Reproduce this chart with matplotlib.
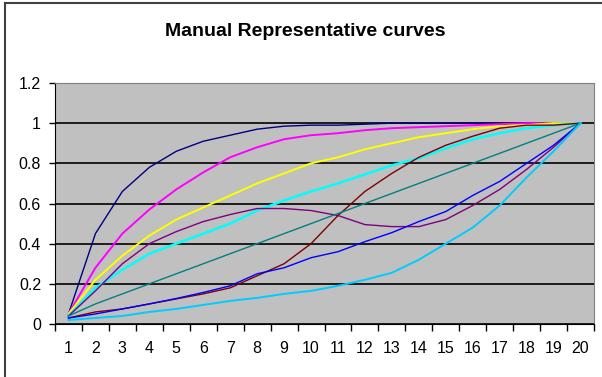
import matplotlib.pyplot as plt
from matplotlib.lines import Line2D

# categorias do eixo x (pontos 1 a 20)
pontos = list(range(1, 21))

# curvas
curva_azul_escuro = [0.05, 0.45, 0.66, 0.78, 0.86, 0.91, 0.94, 0.97, 0.985, 0.99,
                     0.99, 0.995, 1.0, 1.0, 1.0, 1.0, 1.0, 1.0, 1.0, 1.0]
curva_magenta = [0.05, 0.28, 0.45, 0.57, 0.67, 0.755, 0.83, 0.88, 0.92, 0.94,
                 0.95, 0.965, 0.975, 0.98, 0.985, 0.99, 0.995, 1.0, 1.0, 1.0]
curva_amarela = [0.05, 0.22, 0.34, 0.44, 0.52, 0.58, 0.64, 0.70, 0.75, 0.80,
                 0.83, 0.87, 0.90, 0.93, 0.95, 0.97, 0.985, 0.99, 1.0, 1.0]
curva_ciano = [0.04, 0.18, 0.27, 0.35, 0.40, 0.45, 0.50, 0.565, 0.615, 0.66,
               0.70, 0.745, 0.79, 0.825, 0.875, 0.92, 0.95, 0.975, 0.99, 1.0]
curva_roxa = [0.04, 0.165, 0.30, 0.40, 0.46, 0.51, 0.545, 0.575, 0.575, 0.565,
              0.54, 0.495, 0.485, 0.485, 0.52, 0.59, 0.67, 0.77, 0.88, 1.0]
curva_vinho = [0.03, 0.06, 0.075, 0.10, 0.125, 0.15, 0.18, 0.24, 0.30, 0.40,
               0.54, 0.66, 0.75, 0.83, 0.89, 0.935, 0.975, 0.99, 0.99, 1.0]
curva_verde = [0.04, 0.10, 0.15, 0.20, 0.25, 0.30, 0.35, 0.40, 0.45, 0.50,
               0.55, 0.60, 0.65, 0.70, 0.75, 0.80, 0.85, 0.90, 0.95, 1.0]
curva_azul = [0.03, 0.05, 0.075, 0.10, 0.127, 0.157, 0.19, 0.25, 0.28, 0.33,
              0.36, 0.41, 0.455, 0.51, 0.56, 0.64, 0.71, 0.80, 0.89, 1.0]
curva_celeste = [0.02, 0.03, 0.04, 0.06, 0.075, 0.095, 0.115, 0.13, 0.15, 0.165,
                 0.19, 0.22, 0.255, 0.32, 0.40, 0.48, 0.59, 0.73, 0.86, 1.0]

curvas = [curva_azul_escuro, curva_magenta, curva_amarela, curva_ciano, curva_roxa,
          curva_vinho, curva_verde, curva_azul, curva_celeste]
cores = ['#000080', '#FF00FF', '#FFFF00', '#00FFFF', '#800080',
         '#800000', '#008080', '#0000FF', '#00CCFF']
larguras = [1.0, 1.4, 1.4, 1.8, 1.0, 1.0, 1.0, 1.0, 1.4]

plt.rcParams['font.family'] = 'Liberation Sans'
fig = plt.figure(figsize=(6.02, 3.77), dpi=100)

# borda da área do gráfico (só esquerda e topo aparecem no recorte)
fig.lines.append(Line2D([5 / 602, 5 / 602], [0, 1 - 3 / 377], transform=fig.transFigure,
                        color='#404040', linewidth=1.5))
fig.lines.append(Line2D([5 / 602, 1], [1 - 3 / 377, 1 - 3 / 377], transform=fig.transFigure,
                        color='#404040', linewidth=1.5))

ax = fig.add_axes([55 / 602, 1 - 324 / 377, 539 / 602, 241 / 377])
ax.set_facecolor('#C0C0C0')

for valores, cor, lw in zip(curvas, cores, larguras):
    ax.plot(pontos, valores, color=cor, linewidth=lw, zorder=3)

ax.set_xlim(0.5, 20.5)
ax.set_ylim(0, 1.2)

ax.set_yticks([0, 0.2, 0.4, 0.6, 0.8, 1.0, 1.2])
ax.set_yticklabels(['0', '0.2', '0.4', '0.6', '0.8', '1', '1.2'])
ax.set_xticks(pontos)
ax.set_xticks([p + 0.5 for p in [0] + pontos], minor=True)

ax.tick_params(axis='y', direction='out', length=4, width=1, pad=6, labelsize=11.5)
ax.tick_params(axis='x', which='major', length=0, pad=12, labelsize=11.5)
ax.tick_params(axis='x', which='minor', direction='out', length=5, width=1)

ax.set_axisbelow(True)
ax.yaxis.grid(True, color='black', linewidth=1.2)

ax.spines['left'].set_color('black')
ax.spines['bottom'].set_color('black')
ax.spines['top'].set_color('#808080')
ax.spines['right'].set_color('#808080')

fig.text(305 / 602, 1 - 31 / 377, 'Manual Representative curves',
         ha='center', va='center', fontsize=14, fontweight='bold')

plt.savefig('out.png', dpi=100)
